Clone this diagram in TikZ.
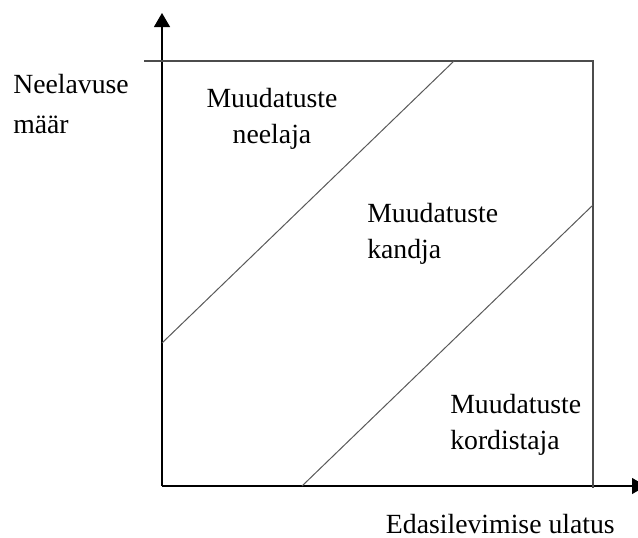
\documentclass[tikz,border=0pt]{standalone}
\usepackage{fontspec}
\setmainfont{Liberation Serif}
\usetikzlibrary{arrows.meta}
\begin{document}
\begin{tikzpicture}[x=0.75pt,y=-0.75pt,
  axis/.style={line width=0.9pt,black,-{Triangle[length=10.5pt,width=12pt]}},
  frame/.style={line width=0.9pt,black!70},
  divider/.style={line width=0.75pt,black!65},
  label/.style={inner sep=0pt,font=\fontsize{20.8}{27}\selectfont}]
  \clip (0,0) rectangle (638,537);
  % origin of the two axes
  \coordinate (o) at (162,486);
  \coordinate (ytip) at (162,13);
  \coordinate (xtip) at (646,486);
  % outer frame corners
  \coordinate (tl) at (144,61);
  \coordinate (tr) at (593,61);
  \coordinate (br) at (593,488);
  % diagonal boundaries between the three regions
  \coordinate (d1a) at (162,343);
  \coordinate (d1b) at (454,61);
  \coordinate (d2a) at (302,486);
  \coordinate (d2b) at (593,205);

  \draw[axis] (o) -- (ytip);
  \draw[axis] (o) -- (xtip);
  \draw[frame] (tl) -- (tr) -- (br);
  \draw[divider] (d1a) -- (d1b);
  \draw[divider] (d2a) -- (d2b);

  % axis titles (base anchor sits on the last line)
  \node[label,anchor=base west,align=left] (ytitle) at (13,133) {Neelavuse\\[3pt]määr};
  \node[label,anchor=base east] (xtitle) at (615,533) {Edasilevimise ulatus};

  % region labels
  \node[label,anchor=base,align=center] (absorber) at (272,143) {Muudatuste\\neelaja};
  \node[label,anchor=base west,align=left] (carrier) at (367,258) {Muudatuste\\kandja};
  \node[label,anchor=base west,align=left] (multiplier) at (450,449) {Muudatuste\\kordistaja};
\end{tikzpicture}
\end{document}
